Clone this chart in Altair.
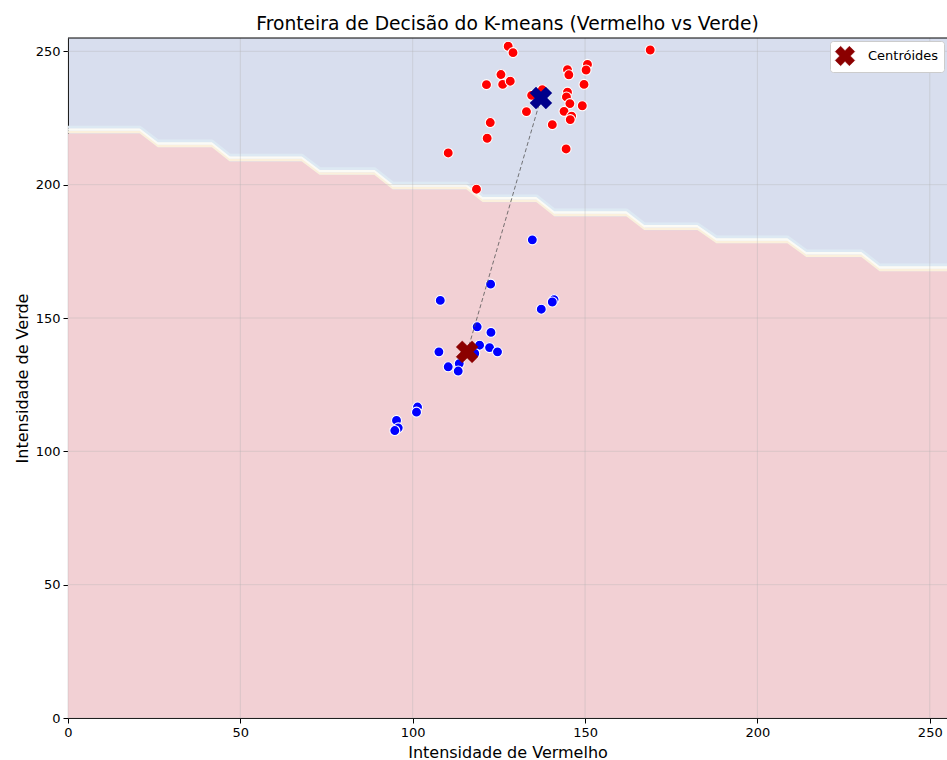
import altair as alt
import pandas as pd

# ---------------- data ----------------
verm_x = [127.7, 129.1, 125.6, 121.4, 126.1, 128.3, 137.6, 134.5, 133.0, 122.5,
          121.6, 110.3, 118.5, 140.5, 144.5, 144.9, 145.3, 150.7, 150.3, 149.7,
          144.9, 144.6, 145.6, 143.9, 149.2, 146.1, 145.7, 168.9]
verm_y = [251.9, 249.5, 241.3, 237.5, 237.6, 238.8, 235.6, 233.5, 227.4, 223.3,
          217.4, 211.9, 198.3, 222.5, 213.4, 243.1, 241.2, 245.1, 243.0, 237.6,
          234.7, 232.9, 230.4, 227.5, 229.6, 225.7, 224.4, 250.5]

azul_x = [134.7, 122.6, 108.0, 137.3, 141.0, 140.5, 118.7, 122.7, 119.4, 122.3,
          124.6, 107.6, 118.0, 110.3, 113.5, 113.2, 101.4, 101.1, 95.3, 95.8, 94.8]
azul_y = [179.3, 162.7, 156.6, 153.3, 156.9, 156.0, 146.7, 144.6, 139.8, 138.9,
          137.3, 137.3, 136.7, 131.7, 132.9, 130.1, 116.6, 114.7, 111.6, 108.8, 107.8]

front_x = [0, 20.9, 26.1, 41.8, 47.0, 67.9, 73.1, 89.0, 94.3, 115.7, 120.4,
           136.0, 141.2, 162.1, 167.3, 182.7, 188.2, 208.8, 214.3, 230.3, 235.5, 255]
front_y = [219.2, 219.2, 214.0, 214.0, 208.7, 208.7, 203.6, 203.6, 198.2, 198.2, 193.4,
           193.4, 188.1, 188.1, 182.9, 182.9, 178.0, 178.0, 172.8, 172.8, 167.5, 167.5]

cent_x = [137.2, 115.8]
cent_y = [232.5, 137.3]
cent_cor = ["#00008b", "#8b0000"]
cent_rotulo = ["Centróides", "Centróides"]

ticks = [0, 50, 100, 150, 200, 250]

# ---------------- styling ----------------
W, H = 879, 680
FONT = "DejaVu Sans"
XPATH = ("M-1,-0.45L-0.45,-1L0,-0.55L0.45,-1L1,-0.45L0.55,0L1,0.45L0.45,1"
         "L0,0.55L-0.45,1L-1,0.45L-0.55,0Z")

xs = alt.Scale(domain=[0, 255], nice=False, zero=False)
ys = alt.Scale(domain=[0, 255], nice=False, zero=False)

front = pd.DataFrame({"x": front_x, "y": front_y})
pts = pd.DataFrame({
    "x": verm_x + azul_x,
    "y": verm_y + azul_y,
    "cor": ["#ff0000"] * len(verm_x) + ["#0000ff"] * len(azul_x),
})
cent = pd.DataFrame({"x": cent_x, "y": cent_y, "cor": cent_cor, "rotulo": cent_rotulo})
ligacao = pd.DataFrame({"x": cent_x, "y": cent_y})
grade = pd.DataFrame({"v": ticks})

X = alt.X("x:Q", scale=xs, title="Intensidade de Vermelho",
          axis=alt.Axis(values=ticks, format="d", labelFlush=False))
Y = alt.Y("y:Q", scale=ys, title="Intensidade de Verde",
          axis=alt.Axis(values=ticks, format="d", labelFlush=False))

area = alt.Chart(front).mark_area(color="#f2d0d4", opacity=1,
                                  interpolate="linear").encode(x=X, y=Y)

bandas = []
for cor, off in [("#fbf0dc", -1.5), ("#fbfbf6", -4.0), ("#dde9f3", -6.5)]:
    bandas.append(
        alt.Chart(front).mark_line(color=cor, strokeWidth=2.6, yOffset=off,
                                   strokeJoin="round").encode(x=X, y=Y)
    )

grade_x = alt.Chart(grade).mark_rule(color="#b0b0b0", opacity=0.45,
                                     strokeWidth=0.8).encode(x=alt.X("v:Q", scale=xs))
grade_y = alt.Chart(grade).mark_rule(color="#b0b0b0", opacity=0.45,
                                     strokeWidth=0.8).encode(y=alt.Y("v:Q", scale=ys))

pontos = alt.Chart(pts).mark_point(filled=True, size=100, stroke="white",
                                   strokeWidth=1.1, opacity=1).encode(
    x=X, y=Y,
    fill=alt.Fill("cor:N", scale=None),
)

linha = alt.Chart(ligacao).mark_line(color="#555555", strokeWidth=1,
                                     strokeDash=[4, 2.5], opacity=0.8).encode(x=X, y=Y)

centroides = alt.Chart(cent).mark_point(filled=True, size=480, opacity=1,
                                        strokeWidth=0.5).encode(
    x=X, y=Y,
    fill=alt.Fill("cor:N", scale=None),
    stroke=alt.Stroke("cor:N", scale=None),
    shape=alt.Shape("rotulo:N", scale=alt.Scale(range=[XPATH]),
                    legend=alt.Legend(title=None, orient="top-right", offset=3,
                                      fillColor="white", strokeColor="#cccccc",
                                      cornerRadius=3, padding=5,
                                      labelFontSize=13, labelFont=FONT,
                                      labelColor="black", labelOffset=13,
                                      symbolSize=380, symbolFillColor="#8b0000",
                                      symbolStrokeColor="#8b0000",
                                      symbolStrokeWidth=0.5, symbolOpacity=1)),
)

topo = alt.Chart(pd.DataFrame({"a": [0]})).mark_rule(color="black",
                                                     strokeWidth=1).encode(
    x=alt.value(0), x2=alt.value(W), y=alt.value(0)
)

chart = alt.layer(
    area, *bandas, grade_x, grade_y, pontos, linha, centroides, topo
).properties(
    width=W, height=H,
    autosize=alt.AutoSizeParams(type="none"),
    padding={"left": 68, "top": 38, "right": 0, "bottom": 42},
    title=alt.TitleParams("Fronteira de Decisão do K-means (Vermelho vs Verde)",
                          fontSize=18.7, font=FONT, fontWeight="normal",
                          anchor="middle", offset=4, color="black"),
).configure_view(
    fill="#d8deee", stroke=None
).configure_axis(
    grid=False, domainColor="black", domainWidth=1, tickColor="black",
    tickSize=5, tickWidth=1, labelFontSize=13, labelFont=FONT,
    labelColor="black", titleFont=FONT, titleFontSize=16,
    titleFontWeight="normal", titleColor="black", labelPadding=3,
    titlePadding=5,
)

chart.save("out.html", embed_options={"renderer": "svg", "actions": False})
